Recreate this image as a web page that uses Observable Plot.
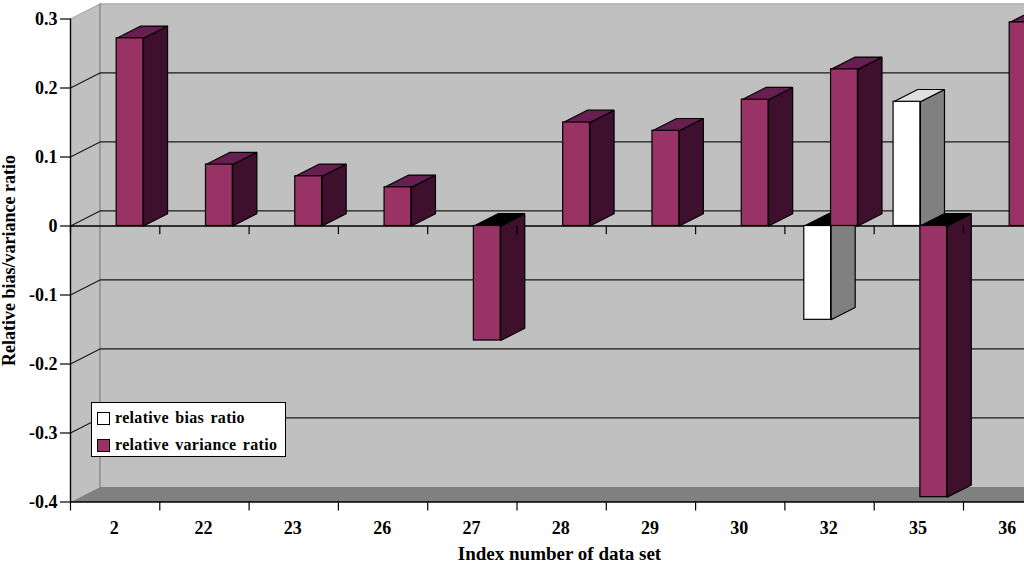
<!DOCTYPE html>
<html>
<head>
<meta charset="utf-8">
<script src="https://cdn.jsdelivr.net/npm/d3@7"></script>
<script src="https://cdn.jsdelivr.net/npm/@observablehq/plot@0.6"></script>
<style>
html,body{margin:0;padding:0;background:#fff;overflow:hidden}
#wrap{position:relative;width:1024px;height:565px;font-family:"Liberation Serif",serif;font-weight:bold;color:#000}
#legend{position:absolute;left:91px;top:402px;width:193px;height:53px;background:#fff;border:1px solid #000;font-size:16px;letter-spacing:.33px;box-sizing:content-box}
#legend div{position:absolute;left:5px;display:flex;align-items:center;white-space:nowrap;word-spacing:2px}
#legend i{display:inline-block;width:11px;height:11px;border:1px solid #000;margin-right:5px}
</style>
</head>
<body>
<div id="wrap">
<div id="chart"></div>
<div id="legend"></div>
</div>
<script>
const categories = ["2","22","23","26","27","28","29","30","32","35","36"];
const biasRatio = [0,0,0,0,0,0,0,0,-0.136,0.18,0];
const varianceRatio = [0.272,0.089,0.072,0.056,-0.166,0.15,0.138,0.183,0.227,-0.393,0.295];
const yTicks = [-0.4,-0.3,-0.2,-0.1,0,0.1,0.2,0.3];
const gridValues = [-0.3,-0.2,-0.1,0,0.1,0.2];
const seriesNames = ["relative bias ratio","relative variance ratio"];
const seriesFront = ["#ffffff","#993366"];
const seriesTop = ["#e0e0e0","#661f50"];
const seriesSide = ["#808080","#3e102e"];

const xMax = 10.683, yMin = -0.4, yMax = 0.3;
const wallDx = 0.33, wallDy = 0.0218;
const barDx = 0.27, barDy = 0.0178;
const gap = 0.217, barW = 0.3;

const poly = (pts, opts) => Plot.line(
  [...pts, pts[0]].map(([x, y]) => ({x, y})),
  {x: "x", y: "y", strokeLinejoin: "miter", ...opts});

const marks = [];
const far = xMax + 1;
// walls and floor
marks.push(poly([[0,yMin],[wallDx,yMin+wallDy],[far,yMin+wallDy],[far,yMax+wallDy],[wallDx,yMax+wallDy],[0,yMax]],{fill:"#c0c0c0",stroke:"none"}));
marks.push(poly([[0,yMin],[wallDx,yMin+wallDy],[far,yMin+wallDy],[far,yMin]],{fill:"#808080",stroke:"none"}));
marks.push(Plot.line([[0,yMax],[wallDx,yMax+wallDy],[far,yMax+wallDy]],{stroke:"#a8a8a8",strokeWidth:1.2}));
marks.push(Plot.line([[wallDx,yMax+wallDy],[wallDx,yMin+wallDy]],{stroke:"#808080",strokeWidth:1.2}));
// gridlines
for (const v of gridValues) {
  marks.push(Plot.line([[0,v],[wallDx,v+wallDy],[far,v+wallDy]],{stroke:"#1a1a1a",strokeWidth:1.2}));
}
// axis lines
marks.push(Plot.ruleY([0,yMin],{x1:0,x2:far,stroke:"#000",strokeWidth:1.4}));
marks.push(Plot.ruleX([0],{y1:yMin,y2:yMax,stroke:"#000",strokeWidth:1.4}));
// bars
categories.forEach((c,i)=>{
  [biasRatio[i],varianceRatio[i]].forEach((v,s)=>{
    if (v===0) return;
    const x1=i+gap+s*barW, x2=x1+barW;
    const stroke="#000", strokeWidth=1.2;
    marks.push(poly([[x2,0],[x2+barDx,barDy],[x2+barDx,v+barDy],[x2,v]],{fill:seriesSide[s],stroke,strokeWidth}));
    const t=Math.max(v,0);
    marks.push(poly([[x1,t],[x2,t],[x2+barDx,t+barDy],[x1+barDx,t+barDy]],{fill:v>0?seriesTop[s]:"#000",stroke,strokeWidth}));
    marks.push(Plot.rect([{c,v}],{x1:()=>x1,x2:()=>x2,y1:()=>0,y2:d=>d.v,fill:seriesFront[s],stroke,strokeWidth}));
  });
});
// category ticks on the zero line and on the bottom edge
const tickPos = d3.range(0,categories.length);
marks.push(Plot.ruleX(tickPos,{y1:0,y2:-0.0125,stroke:"#000",strokeWidth:1.2}));
marks.push(Plot.axisX({ticks:tickPos,tickSize:9,tickFormat:()=>"",stroke:"#000",strokeWidth:1.2,label:null}));
// value axis
marks.push(Plot.axisY({ticks:yTicks,tickSize:10,tickPadding:3,tickFormat:d=>String(d),label:null,fontSize:18,fontWeight:"bold",stroke:"#000",strokeWidth:1.2}));
// category labels
marks.push(Plot.text(categories,{x:(d,i)=>i+0.49,y:()=>yMin,text:d=>d,dy:26,fontSize:18,fontWeight:"bold"}));
marks.push(Plot.text(["Index number of data set"],{frameAnchor:"bottom",dx:12,dy:58,text:d=>d,fontSize:19,fontWeight:"bold"}));
marks.push(Plot.text(["Relative bias/variance ratio"],{frameAnchor:"left",textAnchor:"middle",dx:-61,dy:0,rotate:-90,text:d=>d,fontSize:18,fontWeight:"bold"}));

const svg = Plot.plot({
  width:1024,height:565,
  marginLeft:70,marginRight:0,marginTop:18.5,marginBottom:63.5,
  x:{type:"linear",domain:[0,xMax],axis:null},
  y:{type:"linear",domain:[yMin,yMax],axis:null},
  style:{fontFamily:"'Liberation Serif',serif",background:"#fff",color:"#000",overflow:"hidden"},
  marks
});
document.getElementById("chart").appendChild(svg);

const lg=document.getElementById("legend");
seriesNames.forEach((n,s)=>{
  const row=document.createElement("div");
  row.style.top=(s===0?6:33)+"px";
  const sw=document.createElement("i"); sw.style.background=seriesFront[s];
  row.appendChild(sw); row.appendChild(document.createTextNode(n));
  lg.appendChild(row);
});
</script>
</body>
</html>
